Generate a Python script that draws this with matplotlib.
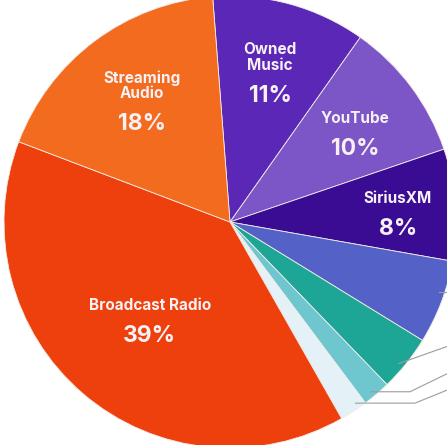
import numpy as np
import matplotlib.pyplot as plt

# ===== 数据 =====
categories = ["Owned\nMusic", "YouTube", "SiriusXM", "", "", "", "", "Broadcast Radio", "Streaming\nAudio"]
shares = [11, 10, 8, 6, 4, 2, 2, 39, 18]
pct_labels = ["11%", "10%", "8%", "", "", "", "", "39%", "18%"]
colors = ["#5A27B6", "#7C55C6", "#3A0C94", "#5462C8", "#1DA595",
          "#6EC6CF", "#E4F1F6", "#EE400D", "#F26B1F"]
label_r = [0.67, 0.69, 0.745, 0, 0, 0, 0, 0.545, 0.65]

W, H = 447, 445
cx, cy, R = 230, H - 222, 226

fig = plt.figure(figsize=(W / 100, H / 100), dpi=100)
ax = fig.add_axes([0, 0, 1, 1])

wedges, _ = ax.pie(shares, colors=colors, startangle=94.4, counterclock=False,
                   radius=R, center=(cx, cy), frame=True,
                   wedgeprops=dict(edgecolor='#f4ece6', linewidth=0.6))
ax.set_xlim(0, W)
ax.set_ylim(0, H)
ax.set_aspect('equal')
ax.axis('off')

# ===== 标签 =====
txt_color = '#f7f1f5'
for w, name, pct, rf in zip(wedges, categories, pct_labels, label_r):
    if not name:
        continue
    ang = np.deg2rad((w.theta1 + w.theta2) / 2)
    x = cx + rf * R * np.cos(ang)
    y = cy + rf * R * np.sin(ang)
    ax.text(x, y + 3, name, ha='center', va='bottom', color=txt_color,
            fontsize=11, fontweight='bold', family='Inter', linespacing=1.05)
    ax.text(x, y - 20, pct, ha='center', va='center', color=txt_color,
            fontsize=16.5, fontweight='bold', family='Inter')

# ===== 引线 =====
pos_in_wedge = [0.6, 0.42, 0.39, 0.71]
elbow_x = [None, None, 410, 415]
rise = [0, 17, 18, 13]
for w, f, ex, dy in zip(wedges[3:7], pos_in_wedge, elbow_x, rise):
    ang = np.deg2rad(w.theta1 + f * (w.theta2 - w.theta1))
    x0 = cx + 0.975 * R * np.cos(ang)
    y0 = cy + 0.975 * R * np.sin(ang)
    ex = x0 if ex is None else ex
    ax.plot([x0, ex, W], [y0, y0, y0 + dy], color='#9c9c9c', lw=0.8,
            clip_on=False, zorder=3)

fig.savefig("out.png", dpi=100)
